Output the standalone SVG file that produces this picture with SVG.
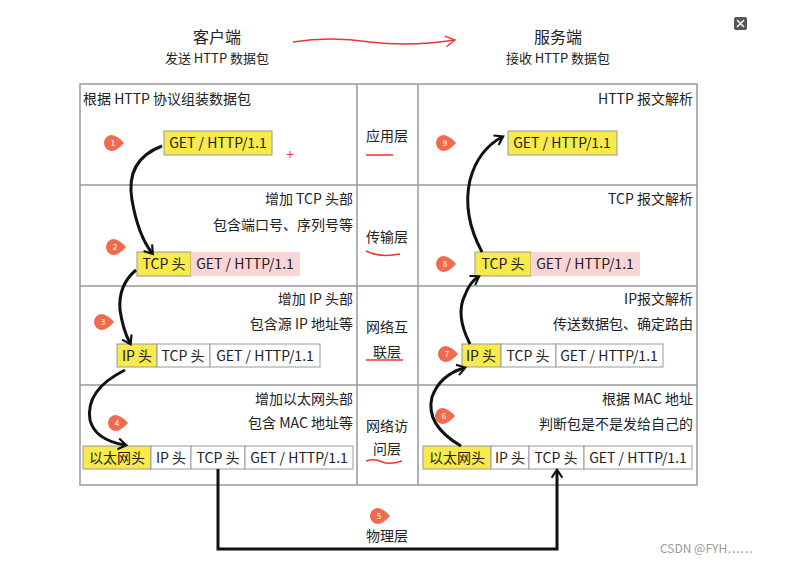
<svg xmlns="http://www.w3.org/2000/svg" width="786" height="563" viewBox="0 0 786 563">
<defs>
<style>
text{font-family:"Noto Sans CJK SC","Liberation Sans",sans-serif;fill:#222;font-size:14px}
.r{text-anchor:end}.m{text-anchor:middle}
.h1{font-size:16px}.h2{font-size:13px}
.y{fill:#f7ea4a;stroke:#999}.p{fill:#fbd5d5;stroke:none}.w{fill:#fff;stroke:#999}
.g{stroke:#999;fill:none;stroke-width:1.5}
.c{fill:none;stroke:#111;stroke-width:3}
.u{fill:none;stroke:#e33;stroke-width:1.5}
.b{fill:#f06a50}
.bt{fill:#fff;font-size:8px;text-anchor:middle}
.wm{font-size:12px;fill:#999}
</style>
<marker id="a" viewBox="0 0 10 10" refX="6" refY="5" markerWidth="4.5" markerHeight="4.5" orient="auto" markerUnits="strokeWidth"><path d="M1,1 L7,5 L1,9" fill="none" stroke="#111" stroke-width="1.6"/></marker>
<marker id="ra" viewBox="0 0 10 10" refX="8" refY="5" markerWidth="9" markerHeight="9" orient="auto"><path d="M1,1 L8,5 L1,9" fill="none" stroke="#e33" stroke-width="1"/></marker>
<path id="bd" class="b" d="M0,-8 A8,8 0 1,0 0,8 Q6,7 12,0 Q6,-7 0,-8Z"/>
</defs>
<rect width="786" height="563" fill="#fff"/>
<g id="header">
<text x="217" y="43" class="m h1">客户端</text>
<text x="217" y="63" class="m h2">发送 HTTP 数据包</text>
<text x="558" y="43" class="m h1">服务端</text>
<text x="558" y="63" class="m h2">接收 HTTP 数据包</text>
<rect x="734" y="17" width="13" height="13" rx="2" fill="#555"/>
<path d="M737,20l7,7M744,20l-7,7" stroke="#fff" stroke-width="1.5"/>
<text x="660" y="553" class="wm">CSDN @FYH……</text>
</g>
<g id="table">
<rect x="80" y="84" width="617" height="401" class="g"/>
<path class="g" d="M357,84V485M418,84V485M80,185H697M80,286H697M80,385H697"/>
<text x="387" y="141" class="m">应用层</text>
<text x="387" y="242" class="m">传输层</text>
<text x="387" y="332" class="m">网络互</text><text x="387" y="357" class="m">联层</text>
<text x="387" y="431" class="m">网络访</text><text x="387" y="454" class="m">问层</text>
<path class="u" d="M366,155H393M366,251Q380,258 400,254M366,360H403M366,461Q375,458 382,462Q390,465 402,461"/>
</g>
<g id="client">
<text x="83" y="104">根据 HTTP 协议组装数据包</text>
<rect x="164" y="131" width="108" height="24" class="y" stroke="none"/><text x="218" y="148" class="m">GET / HTTP/1.1</text>
<text x="353" y="204" class="r">增加 TCP 头部</text><text x="353" y="230" class="r">包含端口号、序列号等</text>
<rect x="137" y="252" width="54" height="24" class="y" stroke="none"/><rect x="191" y="252" width="109" height="24" class="p"/>
<text x="164" y="269" class="m">TCP 头</text><text x="245" y="269" class="m">GET / HTTP/1.1</text>
<text x="353" y="304" class="r">增加 IP 头部</text><text x="353" y="329" class="r">包含源 IP 地址等</text>
<rect x="117" y="344" width="40" height="23" class="y"/><rect x="157" y="344" width="53" height="23" class="w"/><rect x="210" y="344" width="110" height="23" class="w"/>
<text x="137" y="361" class="m">IP 头</text><text x="183" y="361" class="m">TCP 头</text><text x="265" y="361" class="m">GET / HTTP/1.1</text>
<text x="353" y="404" class="r">增加以太网头部</text><text x="353" y="428" class="r">包含 MAC 地址等</text>
<rect x="83" y="446" width="68" height="23" class="y"/><rect x="151" y="446" width="40" height="23" class="w"/><rect x="191" y="446" width="54" height="23" class="w"/><rect x="245" y="446" width="108" height="23" class="w"/>
<text x="117" y="463" class="m">以太网头</text><text x="171" y="463" class="m">IP 头</text><text x="218" y="463" class="m">TCP 头</text><text x="299" y="463" class="m">GET / HTTP/1.1</text>
<path d="M290,151v7M286.5,154.5h7" stroke="#e33"/>
</g>
<g id="server">
<text x="693" y="104" class="r">HTTP 报文解析</text>
<rect x="508" y="131" width="109" height="24" class="y" stroke="none"/><text x="562" y="148" class="m">GET / HTTP/1.1</text>
<text x="693" y="204" class="r">TCP 报文解析</text>
<rect x="475" y="252" width="56" height="24" class="y" stroke="none"/><rect x="531" y="252" width="109" height="24" class="p"/>
<text x="503" y="269" class="m">TCP 头</text><text x="585" y="269" class="m">GET / HTTP/1.1</text>
<text x="693" y="304" class="r">IP报文解析</text><text x="693" y="329" class="r">传送数据包、确定路由</text>
<rect x="462" y="344" width="39" height="23" class="y"/><rect x="501" y="344" width="55" height="23" class="w"/><rect x="556" y="344" width="107" height="23" class="w"/>
<text x="481" y="361" class="m">IP 头</text><text x="528" y="361" class="m">TCP 头</text><text x="609" y="361" class="m">GET / HTTP/1.1</text>
<text x="693" y="404" class="r">根据 MAC 地址</text><text x="693" y="429" class="r">判断包是不是发给自己的</text>
<rect x="423" y="446" width="68" height="23" class="y"/><rect x="491" y="446" width="38" height="23" class="w"/><rect x="529" y="446" width="55" height="23" class="w"/><rect x="584" y="446" width="108" height="23" class="w"/>
<text x="457" y="463" class="m">以太网头</text><text x="510" y="463" class="m">IP 头</text><text x="556" y="463" class="m">TCP 头</text><text x="638" y="463" class="m">GET / HTTP/1.1</text>
</g>
<g id="badges">
<use href="#bd" x="112" y="143"/><text x="113" y="146" class="bt">1</text>
<use href="#bd" x="114" y="247"/><text x="115" y="250" class="bt">2</text>
<use href="#bd" x="102" y="322"/><text x="103" y="325" class="bt">3</text>
<use href="#bd" x="116" y="423"/><text x="117" y="426" class="bt">4</text>
<use href="#bd" x="378" y="516"/><text x="379" y="519" class="bt">5</text>
<use href="#bd" x="443" y="416"/><text x="444" y="419" class="bt">6</text>
<use href="#bd" x="446" y="354"/><text x="447" y="357" class="bt">7</text>
<use href="#bd" x="444" y="264"/><text x="445" y="267" class="bt">8</text>
<use href="#bd" x="444" y="143"/><text x="445" y="146" class="bt">9</text>
<text x="387" y="541" class="m">物理层</text>
</g>
<g id="connectors">
<path d="M293,42 Q330,36 370,42 Q410,47 455,40" fill="none" stroke="#e33" stroke-width="1.5" marker-end="url(#ra)"/>
<path class="c" marker-end="url(#a)" d="M162,146 Q125,160 132,200 Q138,235 152,253"/>
<path class="c" marker-end="url(#a)" d="M136,270 Q118,285 120,310 Q123,330 130,343"/>
<path class="c" marker-end="url(#a)" d="M125,370 Q85,390 90,420 Q95,440 125,445"/>
<path class="c" marker-end="url(#a)" d="M218,469 V549 H557 V471"/>
<path class="c" marker-end="url(#a)" d="M461,446 Q425,425 432,397 Q440,375 464,368"/>
<path class="c" marker-end="url(#a)" d="M470,344 Q455,315 465,295 Q470,282 478,277"/>
<path class="c" marker-end="url(#a)" d="M482,252 Q462,215 470,180 Q478,150 502,137"/>
</g>
</svg>
